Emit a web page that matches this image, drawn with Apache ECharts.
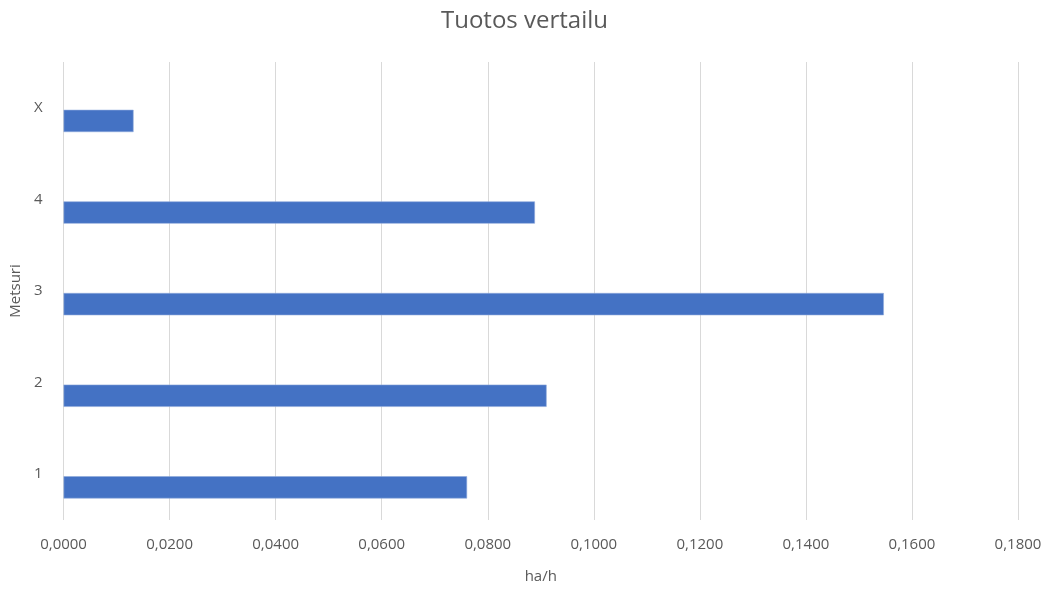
<!DOCTYPE html>
<html><head><meta charset="utf-8">
<script src="https://cdn.jsdelivr.net/npm/echarts@6/dist/echarts.min.js"></script>
<style>html,body{margin:0;padding:0;background:#fff}#c{width:1049px;height:589px}</style>
</head><body><div id="c"></div>
<script>
const categories = ['1', '2', '3', '4', 'X'];
const values = [0.0761, 0.0911, 0.1547, 0.0889, 0.0132];
const emptySeries = [null, null, null, null, null];
const xTicks = { min: 0, max: 0.18, interval: 0.02 };

const chart = echarts.init(document.getElementById('c'), null, { renderer: 'canvas' });
const font = '"Open Sans", "Liberation Sans", sans-serif';
chart.setOption({
  animation: false,
  title: { text: 'Tuotos vertailu', left: 'center', top: 4,
    textStyle: { fontFamily: font, fontSize: 24, fontWeight: 'normal', color: '#595959' } },
  grid: { left: 63, right: 31, top: 62, bottom: 66, containLabel: false },
  xAxis: {
    type: 'value', min: xTicks.min, max: xTicks.max, interval: xTicks.interval,
    name: 'ha/h', nameLocation: 'middle', nameGap: 49,
    nameTextStyle: { fontFamily: font, fontSize: 15, color: '#595959' },
    axisLine: { show: false }, axisTick: { show: false },
    axisLabel: { fontFamily: font, fontSize: 15, color: '#595959', margin: 17,
      formatter: v => v.toFixed(4).replace('.', ',') },
    splitLine: { lineStyle: { color: '#d9d9d9', width: 1 } }
  },
  yAxis: {
    type: 'category', data: categories,
    name: 'Metsuri', nameLocation: 'middle', nameGap: 38,
    nameTextStyle: { fontFamily: font, fontSize: 15, color: '#595959' },
    axisLine: { show: false }, axisTick: { show: false },
    axisLabel: { fontFamily: font, fontSize: 15, color: '#595959', margin: 21 }
  },
  series: [
    { type: 'bar', data: emptySeries, barGap: '18%', barCategoryGap: '47%' },
    { type: 'bar', data: values, barGap: '18%', barCategoryGap: '47%',
      itemStyle: { color: '#4472C4', borderColor: '#8faadc', borderWidth: 0.6 } }
  ]
});
</script></body></html>
